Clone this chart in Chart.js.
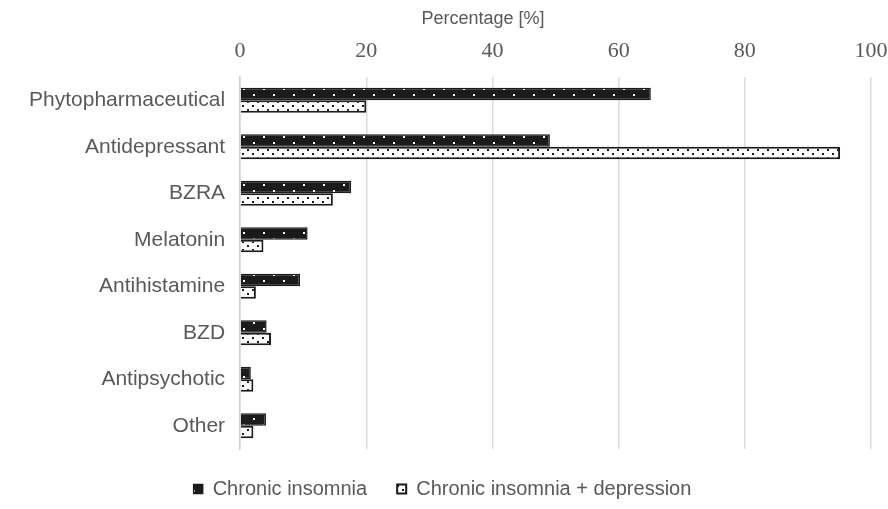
<!DOCTYPE html>
<html>
<head>
<meta charset="utf-8">
<script src="https://cdn.jsdelivr.net/npm/chart.js@4/dist/chart.umd.min.js"></script>
<style>
  html, body { margin:0; padding:0; background:#fff; }
  #wrap { width:888px; height:509px; position:relative; }
</style>
</head>
<body>
<div id="wrap"><canvas id="c"></canvas></div>
<script>
// ─── Data ───────────────────────────────────────────────────────────────────
const categories = ['Phytopharmaceutical', 'Antidepressant', 'BZRA', 'Melatonin',
                    'Antihistamine', 'BZD', 'Antipsychotic', 'Other'];
const insomnia   = [65.1, 49.1, 17.6, 10.7, 9.5, 4.2, 1.7, 4.1];
const depression = [20.0, 95.1, 14.7, 3.7, 2.5, 4.9, 2.1, 2.1];
const seriesNames = ['Chronic insomnia', 'Chronic insomnia + depression'];
const axisTitle = 'Percentage [%]';

// ─── Fill patterns (dark with white dots / white with dark dots) ────────────
function darkDots() {
  const p = document.createElement('canvas');
  p.width = 20; p.height = 12;
  const g = p.getContext('2d');
  g.fillStyle = '#1b1b1b'; g.fillRect(0, 0, 20, 12);
  g.fillStyle = '#fff';
  g.fillRect(3, 4, 2, 2);
  g.fillRect(13, 10, 2, 2);
  return g.createPattern(p, 'repeat');
}
function lightDots() {
  const p = document.createElement('canvas');
  p.width = 10; p.height = 8;
  const g = p.getContext('2d');
  g.fillStyle = '#fff'; g.fillRect(0, 0, 10, 8);
  g.fillStyle = '#1b1b1b';
  g.fillRect(2, 1, 2, 2);
  g.fillRect(7, 5, 2, 2);
  return g.createPattern(p, 'repeat');
}

const GREY  = '#595959';
const SANS  = '"Liberation Sans", Arial, sans-serif';
const SERIF = '"Liberation Serif", "Times New Roman", serif';

// the axis title sits left of the plot centre in the original;
// trailing spaces push the visible text over
const titleText = axisTitle + ' '.repeat(29);

new Chart(document.getElementById('c'), {
  type: 'bar',
  data: {
    labels: categories,
    datasets: [
      { label: seriesNames[0], data: insomnia, backgroundColor: darkDots(),
        borderColor: '#1b1b1b', borderWidth: 1.5 },
      { label: seriesNames[1], data: depression, backgroundColor: lightDots(),
        borderColor: '#1b1b1b', borderWidth: 2 }
    ]
  },
  options: {
    indexAxis: 'y',
    responsive: true,
    maintainAspectRatio: false,
    animation: false,
    categoryPercentage: 0.54,
    barPercentage: 1,
    layout: { padding: { left: 14, right: 17, top: 8, bottom: 0 } },
    plugins: {
      tooltip: { enabled: false },
      legend: {
        position: 'bottom',
        labels: {
          color: GREY,
          font: { family: SANS, size: 20 },
          boxWidth: 9, boxHeight: 9, padding: 30
        }
      }
    },
    scales: {
      x: {
        position: 'top',
        min: 0, max: 100,
        // the original lets the "100" run into the right edge
        afterFit: s => { s.paddingRight = 0; },
        ticks: { stepSize: 20, color: GREY, font: { family: SERIF, size: 22 }, padding: 13 },
        grid: { color: '#d9dce1', lineWidth: 1.5, drawTicks: false },
        border: { display: false },
        title: { display: true, text: titleText, color: GREY,
                 font: { family: SANS, size: 18 }, padding: { top: 0, bottom: -5 } }
      },
      y: {
        ticks: { color: GREY, font: { family: SANS, size: 21 }, padding: 15 },
        grid: { display: false, drawTicks: false },
        border: { display: true, color: '#d0d0d0', width: 1.5 }
      }
    }
  }
});
</script>
</body>
</html>
